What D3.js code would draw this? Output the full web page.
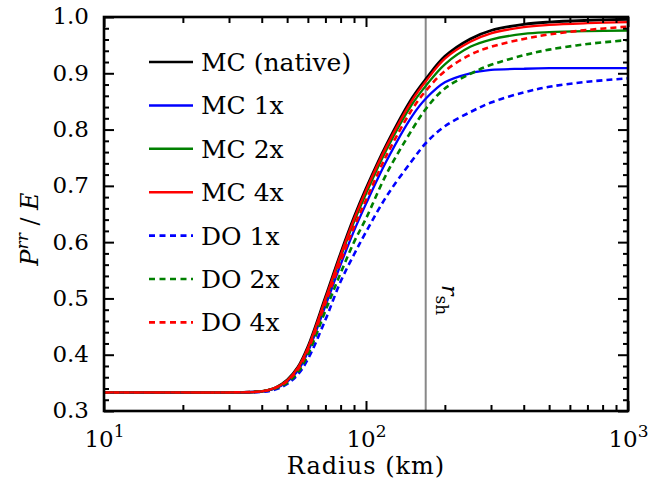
<!DOCTYPE html>
<html>
<head>
<meta charset="utf-8">
<script src="https://cdn.jsdelivr.net/npm/d3@7"></script>
<style>
  html, body { margin: 0; padding: 0; background: #fff; }
  svg { display: block; font-family: 'DejaVu Serif', 'Liberation Serif', serif; }
</style>
</head>
<body>
<svg id="chart" width="649" height="482"></svg>
<script>
// ---- data ----
const radii   = [10, 20, 30, 40, 45, 50, 55, 60, 70, 80, 90, 100, 120, 150, 170, 200, 250, 300, 400, 500, 700, 1000];
const mcNative = [0.333,0.333,0.333,0.335,0.341,0.355,0.378,0.414,0.502,0.580,0.644,0.695,0.774,0.856,0.891,0.930,0.961,0.976,0.987,0.991,0.994,0.996];
const mc1x     = [0.333,0.333,0.333,0.335,0.340,0.352,0.372,0.405,0.487,0.560,0.620,0.668,0.745,0.824,0.856,0.884,0.900,0.906,0.908,0.909,0.909,0.909];
const mc2x     = [0.333,0.333,0.333,0.335,0.341,0.354,0.376,0.410,0.496,0.573,0.636,0.686,0.765,0.845,0.879,0.916,0.947,0.960,0.970,0.973,0.975,0.976];
const mc4x     = [0.333,0.333,0.333,0.335,0.341,0.354,0.377,0.412,0.499,0.577,0.641,0.692,0.771,0.852,0.887,0.926,0.956,0.971,0.982,0.986,0.989,0.991];
const do1x     = [0.333,0.333,0.333,0.334,0.338,0.348,0.365,0.392,0.462,0.530,0.578,0.618,0.682,0.745,0.777,0.806,0.831,0.848,0.866,0.876,0.885,0.891];
const do2x     = [0.333,0.333,0.333,0.335,0.340,0.350,0.369,0.400,0.478,0.545,0.600,0.642,0.722,0.800,0.838,0.873,0.899,0.915,0.932,0.942,0.952,0.959];
const do4x     = [0.333,0.333,0.333,0.335,0.341,0.353,0.374,0.408,0.492,0.566,0.627,0.675,0.755,0.836,0.870,0.904,0.933,0.947,0.961,0.969,0.977,0.983];
const seriesNames  = ["MC (native)", "MC 1x", "MC 2x", "MC 4x", "DO 1x", "DO 2x", "DO 4x"];
const seriesValues = [mcNative, mc1x, mc2x, mc4x, do1x, do2x, do4x];
const seriesColors = ["#000000", "#0000ff", "#008000", "#ff0000", "#0000ff", "#008000", "#ff0000"];
const seriesDashed = [false, false, false, false, true, true, true];
const rShock = 169;
const yTicks = [0.3, 0.4, 0.5, 0.6, 0.7, 0.8, 0.9, 1.0];
const xTicks = [10, 100, 1000];
const xTickExp = ["1", "2", "3"];

// ---- layout ----
const svg = d3.select("#chart");
const W = 649, H = 482;
const m = {left: 104, right: 21, top: 17, bottom: 71};
const iw = W - m.left - m.right, ih = H - m.top - m.bottom;
const g = svg.append("g").attr("transform", `translate(${m.left},${m.top})`);
const FONT = "'DejaVu Serif', 'Liberation Serif', serif";

const x = d3.scaleLog().domain([10, 1000]).range([0, iw]);
const y = d3.scaleLinear().domain([0.3, 1.0]).range([ih, 0]);

const clip = svg.append("defs").append("clipPath").attr("id", "clip");
clip.append("rect").attr("width", iw).attr("height", ih);

// shock radius line
g.append("line")
  .attr("x1", x(rShock)).attr("x2", x(rShock))
  .attr("y1", 0).attr("y2", ih)
  .attr("stroke", "#888").attr("stroke-width", 2);

// r_sh label
const rl = g.append("text")
  .attr("transform", `translate(${x(rShock) + 16},${268}) rotate(90)`)
  .attr("font-size", 22).attr("fill", "#000");
rl.append("tspan").attr("font-style", "italic").text("r");
rl.append("tspan").attr("font-size", 17).attr("dy", 6).text("sh");

// curves
const line = d3.line()
  .x((d, i) => x(radii[i]))
  .y(d => y(d))
  .curve(d3.curveCatmullRom.alpha(0.5));

const curves = g.append("g").attr("clip-path", "url(#clip)");
seriesValues.forEach((vals, k) => {
  curves.append("path")
    .datum(vals)
    .attr("d", line)
    .attr("fill", "none")
    .attr("stroke", seriesColors[k])
    .attr("stroke-width", seriesDashed[k] ? 2.6 : (k === 0 ? 2.8 : 2.3))
    .attr("stroke-dasharray", seriesDashed[k] ? "6,4" : null);
});

// axes (ticks inward on all sides)
const yMinor = d3.range(0.30, 1.0001, 0.02).map(v => +v.toFixed(2)).filter(v => !yTicks.some(t => Math.abs(t - v) < 1e-6));
const xMinor = [];
[10, 100].forEach(dec => { for (let k = 2; k <= 9; k++) xMinor.push(dec * k); });

const tickFont = 23;

// left
const leftAxis = g.append("g").call(
  d3.axisLeft(y).tickValues(yTicks).tickSize(-10).tickPadding(15).tickFormat(d3.format(".1f")));
g.append("g").call(d3.axisLeft(y).tickValues(yMinor).tickSize(-5).tickFormat(""));
// right
g.append("g").attr("transform", `translate(${iw},0)`).call(
  d3.axisRight(y).tickValues(yTicks).tickSize(-10).tickFormat(""));
g.append("g").attr("transform", `translate(${iw},0)`).call(
  d3.axisRight(y).tickValues(yMinor).tickSize(-5).tickFormat(""));
// bottom
const bottomAxis = g.append("g").attr("transform", `translate(0,${ih})`).call(
  d3.axisBottom(x).tickValues(xTicks).tickSize(-10).tickPadding(12).tickFormat(""));
g.append("g").attr("transform", `translate(0,${ih})`).call(
  d3.axisBottom(x).tickValues(xMinor).tickSize(-6).tickFormat(""));
// top
g.append("g").call(d3.axisTop(x).tickValues(xTicks).tickSize(-10).tickFormat(""));
g.append("g").call(d3.axisTop(x).tickValues(xMinor).tickSize(-6).tickFormat(""));

g.selectAll(".domain").remove();
g.selectAll(".tick line").attr("stroke", "#000").attr("stroke-width", 2);

leftAxis.selectAll("text")
  .attr("font-size", tickFont).attr("fill", "#000")
  .attr("font-family", FONT)
  .attr("dy", "0.3em");

bottomAxis.selectAll(".tick text").each(function(d) {
  const t = d3.select(this);
  t.text("").attr("font-size", tickFont).attr("fill", "#000")
   .attr("font-family", FONT)
   .attr("text-anchor", "middle").attr("y", 36).attr("dy", null);
  t.append("tspan").text("10");
  t.append("tspan").attr("font-size", 17).attr("dy", -10).text(xTickExp[xTicks.indexOf(d)]);
});

// frame
g.append("rect")
  .attr("width", iw).attr("height", ih)
  .attr("fill", "none").attr("stroke", "#000").attr("stroke-width", 2.6);

// axis titles
svg.append("text")
  .attr("x", m.left + iw / 2).attr("y", 474)
  .attr("text-anchor", "middle")
  .attr("font-size", 24).attr("letter-spacing", 1)
  .text("Radius (km)");

const yl = svg.append("text")
  .attr("transform", `translate(38,229) rotate(-90)`)
  .attr("text-anchor", "middle")
  .attr("font-size", 24);
yl.append("tspan").attr("font-style", "italic").text("P");
yl.append("tspan").attr("font-style", "italic").attr("font-size", 17).attr("dy", -10).text("rr");
yl.append("tspan").attr("dy", 10).text(" / ");
yl.append("tspan").attr("font-style", "italic").text("E");

// legend
const legend = svg.append("g");
const legY0 = 62, legStep = 43.4;
seriesNames.forEach((name, k) => {
  const yy = legY0 + k * legStep;
  legend.append("line")
    .attr("x1", 149).attr("x2", 193)
    .attr("y1", yy).attr("y2", yy)
    .attr("stroke", seriesColors[k])
    .attr("stroke-width", seriesDashed[k] ? 2.6 : 2.5)
    .attr("stroke-dasharray", seriesDashed[k] ? "6,4.5" : null);
  legend.append("text")
    .attr("x", 201).attr("y", yy).attr("dy", "0.36em")
    .attr("font-size", 25)
    .text(name);
});
</script>
</body>
</html>
